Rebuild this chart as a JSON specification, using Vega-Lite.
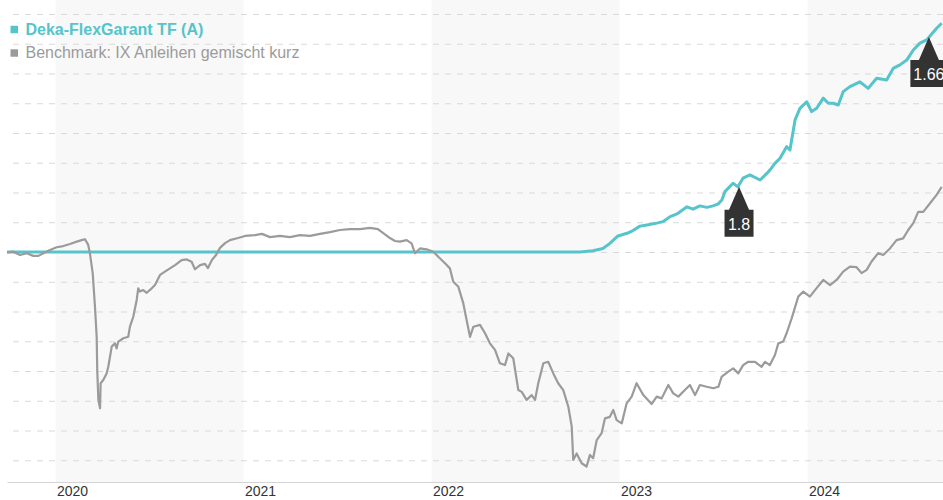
{
  "$schema": "https://vega.github.io/schema/vega-lite/v6.json",
  "autosize": "none",
  "width": 936,
  "height": 482,
  "padding": {"left": 7, "top": 0, "right": 0, "bottom": 18},
  "background": "white",
  "config": {"view": {"stroke": null}, "font": "Liberation Sans"},
  "datasets": {
    "bands": [{"start": 2020, "end": 2021}, {"start": 2022, "end": 2023}, {"start": 2024, "end": 2025}],
    "grid": [{"level": 93}, {"level": 94}, {"level": 95}, {"level": 96}, {"level": 97}, {"level": 98}, {"level": 99}, {"level": 100}, {"level": 101}, {"level": 102}, {"level": 103}, {"level": 104}, {"level": 105}, {"level": 106}, {"level": 107}, {"level": 108}],
    "flags": [{"label": "1.8", "year": 2023.636, "value": 102.19}, {"label": "1.66", "year": 2024.646, "value": 107.23}],
    "fund": [
      {"series": "Deka-FlexGarant TF (A)", "year": 2019.742, "value": 100},
      {"series": "Deka-FlexGarant TF (A)", "year": 2022.79, "value": 100},
      {"series": "Deka-FlexGarant TF (A)", "year": 2022.859, "value": 100.04},
      {"series": "Deka-FlexGarant TF (A)", "year": 2022.912, "value": 100.12},
      {"series": "Deka-FlexGarant TF (A)", "year": 2022.949, "value": 100.29},
      {"series": "Deka-FlexGarant TF (A)", "year": 2022.992, "value": 100.54},
      {"series": "Deka-FlexGarant TF (A)", "year": 2023.04, "value": 100.63},
      {"series": "Deka-FlexGarant TF (A)", "year": 2023.072, "value": 100.72},
      {"series": "Deka-FlexGarant TF (A)", "year": 2023.109, "value": 100.87},
      {"series": "Deka-FlexGarant TF (A)", "year": 2023.146, "value": 100.91},
      {"series": "Deka-FlexGarant TF (A)", "year": 2023.199, "value": 100.97},
      {"series": "Deka-FlexGarant TF (A)", "year": 2023.231, "value": 101.02},
      {"series": "Deka-FlexGarant TF (A)", "year": 2023.269, "value": 101.19},
      {"series": "Deka-FlexGarant TF (A)", "year": 2023.306, "value": 101.28},
      {"series": "Deka-FlexGarant TF (A)", "year": 2023.359, "value": 101.52},
      {"series": "Deka-FlexGarant TF (A)", "year": 2023.391, "value": 101.44},
      {"series": "Deka-FlexGarant TF (A)", "year": 2023.428, "value": 101.55},
      {"series": "Deka-FlexGarant TF (A)", "year": 2023.465, "value": 101.5},
      {"series": "Deka-FlexGarant TF (A)", "year": 2023.497, "value": 101.55},
      {"series": "Deka-FlexGarant TF (A)", "year": 2023.524, "value": 101.61},
      {"series": "Deka-FlexGarant TF (A)", "year": 2023.545, "value": 101.75},
      {"series": "Deka-FlexGarant TF (A)", "year": 2023.561, "value": 102.03},
      {"series": "Deka-FlexGarant TF (A)", "year": 2023.604, "value": 102.31},
      {"series": "Deka-FlexGarant TF (A)", "year": 2023.63, "value": 102.19},
      {"series": "Deka-FlexGarant TF (A)", "year": 2023.657, "value": 102.48},
      {"series": "Deka-FlexGarant TF (A)", "year": 2023.694, "value": 102.59},
      {"series": "Deka-FlexGarant TF (A)", "year": 2023.748, "value": 102.42},
      {"series": "Deka-FlexGarant TF (A)", "year": 2023.785, "value": 102.65},
      {"series": "Deka-FlexGarant TF (A)", "year": 2023.801, "value": 102.76},
      {"series": "Deka-FlexGarant TF (A)", "year": 2023.827, "value": 102.98},
      {"series": "Deka-FlexGarant TF (A)", "year": 2023.854, "value": 103.15},
      {"series": "Deka-FlexGarant TF (A)", "year": 2023.889, "value": 103.54},
      {"series": "Deka-FlexGarant TF (A)", "year": 2023.907, "value": 103.43},
      {"series": "Deka-FlexGarant TF (A)", "year": 2023.934, "value": 104.44},
      {"series": "Deka-FlexGarant TF (A)", "year": 2023.96, "value": 104.83},
      {"series": "Deka-FlexGarant TF (A)", "year": 2023.996, "value": 105.05},
      {"series": "Deka-FlexGarant TF (A)", "year": 2024.022, "value": 104.72},
      {"series": "Deka-FlexGarant TF (A)", "year": 2024.049, "value": 104.83},
      {"series": "Deka-FlexGarant TF (A)", "year": 2024.084, "value": 105.17},
      {"series": "Deka-FlexGarant TF (A)", "year": 2024.111, "value": 105.0},
      {"series": "Deka-FlexGarant TF (A)", "year": 2024.137, "value": 105.0},
      {"series": "Deka-FlexGarant TF (A)", "year": 2024.164, "value": 104.94},
      {"series": "Deka-FlexGarant TF (A)", "year": 2024.19, "value": 105.39},
      {"series": "Deka-FlexGarant TF (A)", "year": 2024.226, "value": 105.56},
      {"series": "Deka-FlexGarant TF (A)", "year": 2024.279, "value": 105.72},
      {"series": "Deka-FlexGarant TF (A)", "year": 2024.323, "value": 105.5},
      {"series": "Deka-FlexGarant TF (A)", "year": 2024.368, "value": 105.84},
      {"series": "Deka-FlexGarant TF (A)", "year": 2024.421, "value": 105.78},
      {"series": "Deka-FlexGarant TF (A)", "year": 2024.456, "value": 106.17},
      {"series": "Deka-FlexGarant TF (A)", "year": 2024.492, "value": 106.29},
      {"series": "Deka-FlexGarant TF (A)", "year": 2024.528, "value": 106.45},
      {"series": "Deka-FlexGarant TF (A)", "year": 2024.563, "value": 106.79},
      {"series": "Deka-FlexGarant TF (A)", "year": 2024.598, "value": 107.02},
      {"series": "Deka-FlexGarant TF (A)", "year": 2024.634, "value": 107.13},
      {"series": "Deka-FlexGarant TF (A)", "year": 2024.652, "value": 107.26},
      {"series": "Deka-FlexGarant TF (A)", "year": 2024.687, "value": 107.52},
      {"series": "Deka-FlexGarant TF (A)", "year": 2024.714, "value": 107.69}
    ],
    "bench": [
      {"series": "Benchmark: IX Anleihen gemischt kurz", "year": 2019.742, "value": 99.99},
      {"series": "Benchmark: IX Anleihen gemischt kurz", "year": 2019.776, "value": 100.01},
      {"series": "Benchmark: IX Anleihen gemischt kurz", "year": 2019.811, "value": 99.9},
      {"series": "Benchmark: IX Anleihen gemischt kurz", "year": 2019.847, "value": 99.96},
      {"series": "Benchmark: IX Anleihen gemischt kurz", "year": 2019.882, "value": 99.87},
      {"series": "Benchmark: IX Anleihen gemischt kurz", "year": 2019.909, "value": 99.87},
      {"series": "Benchmark: IX Anleihen gemischt kurz", "year": 2019.935, "value": 99.96},
      {"series": "Benchmark: IX Anleihen gemischt kurz", "year": 2019.971, "value": 100.07},
      {"series": "Benchmark: IX Anleihen gemischt kurz", "year": 2020.006, "value": 100.16},
      {"series": "Benchmark: IX Anleihen gemischt kurz", "year": 2020.041, "value": 100.2},
      {"series": "Benchmark: IX Anleihen gemischt kurz", "year": 2020.077, "value": 100.27},
      {"series": "Benchmark: IX Anleihen gemischt kurz", "year": 2020.113, "value": 100.35},
      {"series": "Benchmark: IX Anleihen gemischt kurz", "year": 2020.139, "value": 100.4},
      {"series": "Benchmark: IX Anleihen gemischt kurz", "year": 2020.157, "value": 100.43},
      {"series": "Benchmark: IX Anleihen gemischt kurz", "year": 2020.174, "value": 100.24},
      {"series": "Benchmark: IX Anleihen gemischt kurz", "year": 2020.183, "value": 99.96},
      {"series": "Benchmark: IX Anleihen gemischt kurz", "year": 2020.198, "value": 99.28},
      {"series": "Benchmark: IX Anleihen gemischt kurz", "year": 2020.21, "value": 98.16},
      {"series": "Benchmark: IX Anleihen gemischt kurz", "year": 2020.219, "value": 97.15},
      {"series": "Benchmark: IX Anleihen gemischt kurz", "year": 2020.222, "value": 96.03},
      {"series": "Benchmark: IX Anleihen gemischt kurz", "year": 2020.228, "value": 95.03},
      {"series": "Benchmark: IX Anleihen gemischt kurz", "year": 2020.237, "value": 94.75},
      {"series": "Benchmark: IX Anleihen gemischt kurz", "year": 2020.24, "value": 95.59},
      {"series": "Benchmark: IX Anleihen gemischt kurz", "year": 2020.254, "value": 95.7},
      {"series": "Benchmark: IX Anleihen gemischt kurz", "year": 2020.272, "value": 95.92},
      {"series": "Benchmark: IX Anleihen gemischt kurz", "year": 2020.281, "value": 96.15},
      {"series": "Benchmark: IX Anleihen gemischt kurz", "year": 2020.29, "value": 96.48},
      {"series": "Benchmark: IX Anleihen gemischt kurz", "year": 2020.299, "value": 96.82},
      {"series": "Benchmark: IX Anleihen gemischt kurz", "year": 2020.316, "value": 96.93},
      {"series": "Benchmark: IX Anleihen gemischt kurz", "year": 2020.325, "value": 96.76},
      {"series": "Benchmark: IX Anleihen gemischt kurz", "year": 2020.334, "value": 96.99},
      {"series": "Benchmark: IX Anleihen gemischt kurz", "year": 2020.361, "value": 97.1},
      {"series": "Benchmark: IX Anleihen gemischt kurz", "year": 2020.387, "value": 97.15},
      {"series": "Benchmark: IX Anleihen gemischt kurz", "year": 2020.396, "value": 97.49},
      {"series": "Benchmark: IX Anleihen gemischt kurz", "year": 2020.414, "value": 97.83},
      {"series": "Benchmark: IX Anleihen gemischt kurz", "year": 2020.432, "value": 98.39},
      {"series": "Benchmark: IX Anleihen gemischt kurz", "year": 2020.44, "value": 98.78},
      {"series": "Benchmark: IX Anleihen gemischt kurz", "year": 2020.449, "value": 98.67},
      {"series": "Benchmark: IX Anleihen gemischt kurz", "year": 2020.467, "value": 98.72},
      {"series": "Benchmark: IX Anleihen gemischt kurz", "year": 2020.485, "value": 98.63},
      {"series": "Benchmark: IX Anleihen gemischt kurz", "year": 2020.512, "value": 98.78},
      {"series": "Benchmark: IX Anleihen gemischt kurz", "year": 2020.529, "value": 98.89},
      {"series": "Benchmark: IX Anleihen gemischt kurz", "year": 2020.556, "value": 99.23},
      {"series": "Benchmark: IX Anleihen gemischt kurz", "year": 2020.582, "value": 99.34},
      {"series": "Benchmark: IX Anleihen gemischt kurz", "year": 2020.609, "value": 99.45},
      {"series": "Benchmark: IX Anleihen gemischt kurz", "year": 2020.636, "value": 99.56},
      {"series": "Benchmark: IX Anleihen gemischt kurz", "year": 2020.671, "value": 99.73},
      {"series": "Benchmark: IX Anleihen gemischt kurz", "year": 2020.698, "value": 99.75},
      {"series": "Benchmark: IX Anleihen gemischt kurz", "year": 2020.724, "value": 99.67},
      {"series": "Benchmark: IX Anleihen gemischt kurz", "year": 2020.742, "value": 99.42},
      {"series": "Benchmark: IX Anleihen gemischt kurz", "year": 2020.769, "value": 99.56},
      {"series": "Benchmark: IX Anleihen gemischt kurz", "year": 2020.795, "value": 99.6},
      {"series": "Benchmark: IX Anleihen gemischt kurz", "year": 2020.811, "value": 99.46},
      {"series": "Benchmark: IX Anleihen gemischt kurz", "year": 2020.832, "value": 99.73},
      {"series": "Benchmark: IX Anleihen gemischt kurz", "year": 2020.854, "value": 99.9},
      {"series": "Benchmark: IX Anleihen gemischt kurz", "year": 2020.875, "value": 100.14},
      {"series": "Benchmark: IX Anleihen gemischt kurz", "year": 2020.902, "value": 100.3},
      {"series": "Benchmark: IX Anleihen gemischt kurz", "year": 2020.928, "value": 100.4},
      {"series": "Benchmark: IX Anleihen gemischt kurz", "year": 2020.971, "value": 100.47},
      {"series": "Benchmark: IX Anleihen gemischt kurz", "year": 2021.008, "value": 100.54},
      {"series": "Benchmark: IX Anleihen gemischt kurz", "year": 2021.061, "value": 100.57},
      {"series": "Benchmark: IX Anleihen gemischt kurz", "year": 2021.098, "value": 100.61},
      {"series": "Benchmark: IX Anleihen gemischt kurz", "year": 2021.141, "value": 100.5},
      {"series": "Benchmark: IX Anleihen gemischt kurz", "year": 2021.194, "value": 100.54},
      {"series": "Benchmark: IX Anleihen gemischt kurz", "year": 2021.247, "value": 100.5},
      {"series": "Benchmark: IX Anleihen gemischt kurz", "year": 2021.3, "value": 100.57},
      {"series": "Benchmark: IX Anleihen gemischt kurz", "year": 2021.354, "value": 100.54},
      {"series": "Benchmark: IX Anleihen gemischt kurz", "year": 2021.407, "value": 100.61},
      {"series": "Benchmark: IX Anleihen gemischt kurz", "year": 2021.46, "value": 100.67},
      {"series": "Benchmark: IX Anleihen gemischt kurz", "year": 2021.513, "value": 100.74},
      {"series": "Benchmark: IX Anleihen gemischt kurz", "year": 2021.566, "value": 100.77},
      {"series": "Benchmark: IX Anleihen gemischt kurz", "year": 2021.62, "value": 100.77},
      {"series": "Benchmark: IX Anleihen gemischt kurz", "year": 2021.673, "value": 100.81},
      {"series": "Benchmark: IX Anleihen gemischt kurz", "year": 2021.715, "value": 100.77},
      {"series": "Benchmark: IX Anleihen gemischt kurz", "year": 2021.742, "value": 100.64},
      {"series": "Benchmark: IX Anleihen gemischt kurz", "year": 2021.779, "value": 100.47},
      {"series": "Benchmark: IX Anleihen gemischt kurz", "year": 2021.806, "value": 100.37},
      {"series": "Benchmark: IX Anleihen gemischt kurz", "year": 2021.832, "value": 100.35},
      {"series": "Benchmark: IX Anleihen gemischt kurz", "year": 2021.868, "value": 100.4},
      {"series": "Benchmark: IX Anleihen gemischt kurz", "year": 2021.894, "value": 100.29},
      {"series": "Benchmark: IX Anleihen gemischt kurz", "year": 2021.912, "value": 99.96},
      {"series": "Benchmark: IX Anleihen gemischt kurz", "year": 2021.939, "value": 100.12},
      {"series": "Benchmark: IX Anleihen gemischt kurz", "year": 2021.974, "value": 100.09},
      {"series": "Benchmark: IX Anleihen gemischt kurz", "year": 2022.01, "value": 100.01},
      {"series": "Benchmark: IX Anleihen gemischt kurz", "year": 2022.036, "value": 99.84},
      {"series": "Benchmark: IX Anleihen gemischt kurz", "year": 2022.072, "value": 99.62},
      {"series": "Benchmark: IX Anleihen gemischt kurz", "year": 2022.098, "value": 99.45},
      {"series": "Benchmark: IX Anleihen gemischt kurz", "year": 2022.116, "value": 99.0},
      {"series": "Benchmark: IX Anleihen gemischt kurz", "year": 2022.143, "value": 98.83},
      {"series": "Benchmark: IX Anleihen gemischt kurz", "year": 2022.169, "value": 98.28},
      {"series": "Benchmark: IX Anleihen gemischt kurz", "year": 2022.196, "value": 97.43},
      {"series": "Benchmark: IX Anleihen gemischt kurz", "year": 2022.205, "value": 97.15},
      {"series": "Benchmark: IX Anleihen gemischt kurz", "year": 2022.223, "value": 97.49},
      {"series": "Benchmark: IX Anleihen gemischt kurz", "year": 2022.258, "value": 97.55},
      {"series": "Benchmark: IX Anleihen gemischt kurz", "year": 2022.285, "value": 97.27},
      {"series": "Benchmark: IX Anleihen gemischt kurz", "year": 2022.311, "value": 96.93},
      {"series": "Benchmark: IX Anleihen gemischt kurz", "year": 2022.338, "value": 96.71},
      {"series": "Benchmark: IX Anleihen gemischt kurz", "year": 2022.364, "value": 96.26},
      {"series": "Benchmark: IX Anleihen gemischt kurz", "year": 2022.391, "value": 96.2},
      {"series": "Benchmark: IX Anleihen gemischt kurz", "year": 2022.409, "value": 96.59},
      {"series": "Benchmark: IX Anleihen gemischt kurz", "year": 2022.435, "value": 96.43},
      {"series": "Benchmark: IX Anleihen gemischt kurz", "year": 2022.462, "value": 95.36},
      {"series": "Benchmark: IX Anleihen gemischt kurz", "year": 2022.48, "value": 95.3},
      {"series": "Benchmark: IX Anleihen gemischt kurz", "year": 2022.506, "value": 95.03},
      {"series": "Benchmark: IX Anleihen gemischt kurz", "year": 2022.533, "value": 95.19},
      {"series": "Benchmark: IX Anleihen gemischt kurz", "year": 2022.551, "value": 95.03},
      {"series": "Benchmark: IX Anleihen gemischt kurz", "year": 2022.568, "value": 95.59},
      {"series": "Benchmark: IX Anleihen gemischt kurz", "year": 2022.595, "value": 96.26},
      {"series": "Benchmark: IX Anleihen gemischt kurz", "year": 2022.621, "value": 96.31},
      {"series": "Benchmark: IX Anleihen gemischt kurz", "year": 2022.648, "value": 95.92},
      {"series": "Benchmark: IX Anleihen gemischt kurz", "year": 2022.674, "value": 95.59},
      {"series": "Benchmark: IX Anleihen gemischt kurz", "year": 2022.701, "value": 95.36},
      {"series": "Benchmark: IX Anleihen gemischt kurz", "year": 2022.728, "value": 94.8},
      {"series": "Benchmark: IX Anleihen gemischt kurz", "year": 2022.746, "value": 94.13},
      {"series": "Benchmark: IX Anleihen gemischt kurz", "year": 2022.754, "value": 93.01},
      {"series": "Benchmark: IX Anleihen gemischt kurz", "year": 2022.772, "value": 93.23},
      {"series": "Benchmark: IX Anleihen gemischt kurz", "year": 2022.799, "value": 92.9},
      {"series": "Benchmark: IX Anleihen gemischt kurz", "year": 2022.825, "value": 92.79},
      {"series": "Benchmark: IX Anleihen gemischt kurz", "year": 2022.843, "value": 93.18},
      {"series": "Benchmark: IX Anleihen gemischt kurz", "year": 2022.86, "value": 93.07},
      {"series": "Benchmark: IX Anleihen gemischt kurz", "year": 2022.879, "value": 93.68},
      {"series": "Benchmark: IX Anleihen gemischt kurz", "year": 2022.905, "value": 93.91},
      {"series": "Benchmark: IX Anleihen gemischt kurz", "year": 2022.923, "value": 94.41},
      {"series": "Benchmark: IX Anleihen gemischt kurz", "year": 2022.949, "value": 94.46},
      {"series": "Benchmark: IX Anleihen gemischt kurz", "year": 2022.967, "value": 94.69},
      {"series": "Benchmark: IX Anleihen gemischt kurz", "year": 2022.985, "value": 94.35},
      {"series": "Benchmark: IX Anleihen gemischt kurz", "year": 2023.012, "value": 94.24},
      {"series": "Benchmark: IX Anleihen gemischt kurz", "year": 2023.038, "value": 94.91},
      {"series": "Benchmark: IX Anleihen gemischt kurz", "year": 2023.065, "value": 95.14},
      {"series": "Benchmark: IX Anleihen gemischt kurz", "year": 2023.091, "value": 95.59},
      {"series": "Benchmark: IX Anleihen gemischt kurz", "year": 2023.127, "value": 95.19},
      {"series": "Benchmark: IX Anleihen gemischt kurz", "year": 2023.171, "value": 94.89},
      {"series": "Benchmark: IX Anleihen gemischt kurz", "year": 2023.198, "value": 95.14},
      {"series": "Benchmark: IX Anleihen gemischt kurz", "year": 2023.224, "value": 95.08},
      {"series": "Benchmark: IX Anleihen gemischt kurz", "year": 2023.26, "value": 95.53},
      {"series": "Benchmark: IX Anleihen gemischt kurz", "year": 2023.286, "value": 95.25},
      {"series": "Benchmark: IX Anleihen gemischt kurz", "year": 2023.313, "value": 95.14},
      {"series": "Benchmark: IX Anleihen gemischt kurz", "year": 2023.348, "value": 95.36},
      {"series": "Benchmark: IX Anleihen gemischt kurz", "year": 2023.375, "value": 95.53},
      {"series": "Benchmark: IX Anleihen gemischt kurz", "year": 2023.402, "value": 95.19},
      {"series": "Benchmark: IX Anleihen gemischt kurz", "year": 2023.428, "value": 95.53},
      {"series": "Benchmark: IX Anleihen gemischt kurz", "year": 2023.464, "value": 95.47},
      {"series": "Benchmark: IX Anleihen gemischt kurz", "year": 2023.499, "value": 95.42},
      {"series": "Benchmark: IX Anleihen gemischt kurz", "year": 2023.526, "value": 95.47},
      {"series": "Benchmark: IX Anleihen gemischt kurz", "year": 2023.544, "value": 95.81},
      {"series": "Benchmark: IX Anleihen gemischt kurz", "year": 2023.579, "value": 95.98},
      {"series": "Benchmark: IX Anleihen gemischt kurz", "year": 2023.605, "value": 96.09},
      {"series": "Benchmark: IX Anleihen gemischt kurz", "year": 2023.632, "value": 95.92},
      {"series": "Benchmark: IX Anleihen gemischt kurz", "year": 2023.658, "value": 96.2},
      {"series": "Benchmark: IX Anleihen gemischt kurz", "year": 2023.685, "value": 96.31},
      {"series": "Benchmark: IX Anleihen gemischt kurz", "year": 2023.721, "value": 96.31},
      {"series": "Benchmark: IX Anleihen gemischt kurz", "year": 2023.756, "value": 96.14},
      {"series": "Benchmark: IX Anleihen gemischt kurz", "year": 2023.774, "value": 96.31},
      {"series": "Benchmark: IX Anleihen gemischt kurz", "year": 2023.8, "value": 96.2},
      {"series": "Benchmark: IX Anleihen gemischt kurz", "year": 2023.827, "value": 96.54},
      {"series": "Benchmark: IX Anleihen gemischt kurz", "year": 2023.845, "value": 96.93},
      {"series": "Benchmark: IX Anleihen gemischt kurz", "year": 2023.871, "value": 96.99},
      {"series": "Benchmark: IX Anleihen gemischt kurz", "year": 2023.889, "value": 97.27},
      {"series": "Benchmark: IX Anleihen gemischt kurz", "year": 2023.916, "value": 97.77},
      {"series": "Benchmark: IX Anleihen gemischt kurz", "year": 2023.951, "value": 98.5},
      {"series": "Benchmark: IX Anleihen gemischt kurz", "year": 2023.978, "value": 98.67},
      {"series": "Benchmark: IX Anleihen gemischt kurz", "year": 2024.013, "value": 98.5},
      {"series": "Benchmark: IX Anleihen gemischt kurz", "year": 2024.04, "value": 98.72},
      {"series": "Benchmark: IX Anleihen gemischt kurz", "year": 2024.084, "value": 99.06},
      {"series": "Benchmark: IX Anleihen gemischt kurz", "year": 2024.12, "value": 98.89},
      {"series": "Benchmark: IX Anleihen gemischt kurz", "year": 2024.155, "value": 99.06},
      {"series": "Benchmark: IX Anleihen gemischt kurz", "year": 2024.19, "value": 99.34},
      {"series": "Benchmark: IX Anleihen gemischt kurz", "year": 2024.226, "value": 99.51},
      {"series": "Benchmark: IX Anleihen gemischt kurz", "year": 2024.261, "value": 99.49},
      {"series": "Benchmark: IX Anleihen gemischt kurz", "year": 2024.288, "value": 99.29},
      {"series": "Benchmark: IX Anleihen gemischt kurz", "year": 2024.315, "value": 99.4},
      {"series": "Benchmark: IX Anleihen gemischt kurz", "year": 2024.341, "value": 99.68},
      {"series": "Benchmark: IX Anleihen gemischt kurz", "year": 2024.376, "value": 99.96},
      {"series": "Benchmark: IX Anleihen gemischt kurz", "year": 2024.403, "value": 99.9},
      {"series": "Benchmark: IX Anleihen gemischt kurz", "year": 2024.439, "value": 100.12},
      {"series": "Benchmark: IX Anleihen gemischt kurz", "year": 2024.474, "value": 100.4},
      {"series": "Benchmark: IX Anleihen gemischt kurz", "year": 2024.509, "value": 100.46},
      {"series": "Benchmark: IX Anleihen gemischt kurz", "year": 2024.536, "value": 100.74},
      {"series": "Benchmark: IX Anleihen gemischt kurz", "year": 2024.563, "value": 100.97},
      {"series": "Benchmark: IX Anleihen gemischt kurz", "year": 2024.589, "value": 101.35},
      {"series": "Benchmark: IX Anleihen gemischt kurz", "year": 2024.616, "value": 101.35},
      {"series": "Benchmark: IX Anleihen gemischt kurz", "year": 2024.652, "value": 101.64},
      {"series": "Benchmark: IX Anleihen gemischt kurz", "year": 2024.687, "value": 101.92},
      {"series": "Benchmark: IX Anleihen gemischt kurz", "year": 2024.714, "value": 102.19}
    ]
  },
  "layer": [
    {
      "data": {"name": "bands"},
      "mark": {"type": "rect", "color": "#000000", "opacity": 0.028, "clip": true},
      "encoding": {
        "x": {"field": "start", "type": "quantitative", "scale": {"domain": [2019.742, 2024.721], "nice": false, "zero": false},
          "axis": {"values": [2020, 2021, 2022, 2023, 2024], "format": "d", "title": null, "labelAlign": "left", "labelFlush": false, "labelOffset": 1, "labelPadding": 2, "labelBaseline": "top", "ticks": false, "grid": false, "domainColor": "#d4d4d4", "labelColor": "#333333", "labelFontSize": 14, "labelFont": "Liberation Sans"}},
        "x2": {"field": "end"}
      }
    },
    {
      "data": {"name": "grid"},
      "mark": {"type": "rule", "color": "#d9d9d9", "strokeWidth": 1, "strokeDash": [6, 6], "yOffset": 0.5},
      "encoding": {
        "y": {"field": "level", "type": "quantitative", "scale": {"domain": [92.27, 108.47], "nice": false, "zero": false}, "axis": null}
      }
    },
    {
      "data": {"name": "fund"},
      "mark": {"type": "line", "strokeWidth": 3, "strokeJoin": "round"},
      "encoding": {
        "x": {"field": "year", "type": "quantitative"},
        "y": {"field": "value", "type": "quantitative"},
        "color": {"field": "series", "type": "nominal",
          "scale": {"domain": ["Deka-FlexGarant TF (A)", "Benchmark: IX Anleihen gemischt kurz"], "range": ["#55c4cb", "#9b9b9b"]},
          "legend": {"orient": "none", "legendX": -0.75, "legendY": 21.5, "title": null, "padding": 0, "symbolType": "square", "symbolSize": 56, "labelFontSize": 16, "labelFont": "Liberation Sans", "labelOffset": 3.25, "labelLimit": 0, "rowPadding": 7.5,
            "encode": {
              "symbols": {"update": {"fill": {"scale": "color", "field": "value"}, "strokeWidth": {"value": 0}}},
              "labels": {"update": {
                "fill": {"signal": "datum.label === 'Deka-FlexGarant TF (A)' ? '#55c4cb' : '#9b9b9b'"},
                "fontWeight": {"signal": "datum.label === 'Deka-FlexGarant TF (A)' ? 'bold' : 'normal'"}
              }}
            }}}
      }
    },
    {
      "data": {"name": "bench"},
      "mark": {"type": "line", "strokeWidth": 2.2, "strokeJoin": "round"},
      "encoding": {
        "x": {"field": "year", "type": "quantitative"},
        "y": {"field": "value", "type": "quantitative"},
        "color": {"field": "series", "type": "nominal"}
      }
    },
    {
      "data": {"name": "flags"},
      "mark": {"type": "point", "filled": true, "size": 4, "opacity": 1, "color": "#333333", "strokeWidth": 0},
      "encoding": {
        "x": {"field": "year", "type": "quantitative"},
        "y": {"field": "value", "type": "quantitative"},
        "shape": {"field": "label", "type": "nominal", "legend": null,
          "scale": {"domain": ["1.8", "1.66"], "range": ["M0,0L10,23L14.5,23L14.5,50L-14.5,50L-14.5,23L-10,23Z", "M0,0L10,23L18.5,23L18.5,50L-18.5,50L-18.5,23L-10,23Z"]}}
      }
    },
    {
      "data": {"name": "flags"},
      "mark": {"type": "text", "dy": 43, "baseline": "alphabetic", "align": "center", "color": "#ffffff", "fontSize": 16, "font": "Liberation Sans"},
      "encoding": {
        "x": {"field": "year", "type": "quantitative"},
        "y": {"field": "value", "type": "quantitative"},
        "text": {"field": "label"}
      }
    }
  ]
}
